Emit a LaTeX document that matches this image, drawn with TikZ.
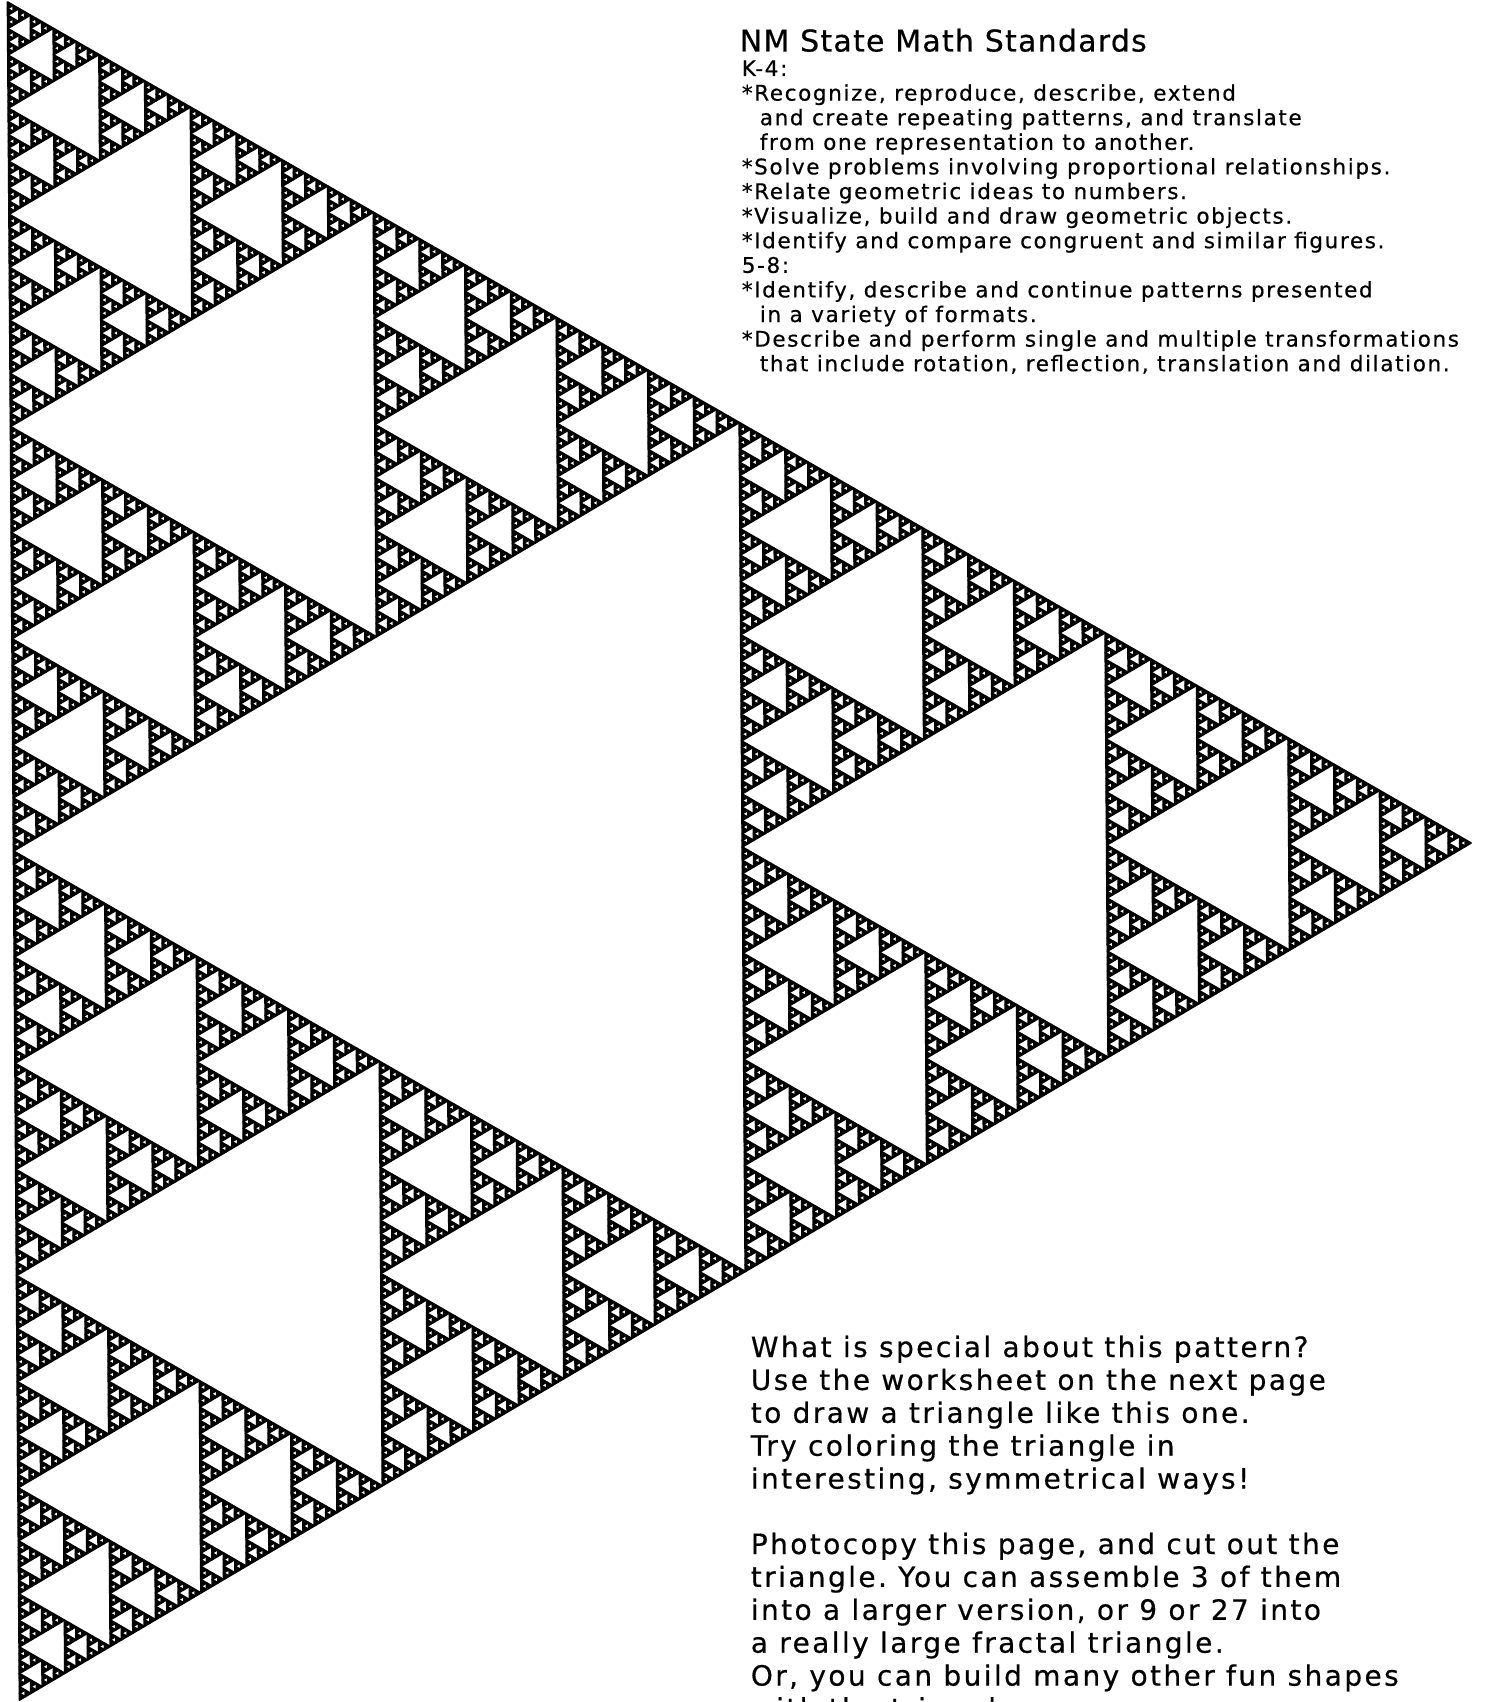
\documentclass[tikz,border=0pt]{standalone}
\usepackage{fontspec}
\newfontfamily\titlefont[LetterSpace=4.1,FakeBold=0.5]{DejaVu Sans}
\newfontfamily\stdfont[LetterSpace=7.6,FakeBold=0.5]{DejaVu Sans}
\newfontfamily\notefont[LetterSpace=8.6,FakeBold=0.5]{DejaVu Sans}

% recursive Sierpinski triangle: level, then three corners (x,y as dimensions)
\newcommand\sierpA[7]{%
  \ifnum#1=0
    \pgfpathmoveto{\pgfqpoint{#2}{#3}}%
    \pgfpathlineto{\pgfqpoint{#4}{#5}}%
    \pgfpathlineto{\pgfqpoint{#6}{#7}}%
    \pgfpathclose
    \pgfusepath{fill,stroke}%
  \else
    \edef\sierpNext{%
      \noexpand\sierpA{\the\numexpr#1-1\relax}{#2}{#3}%
        {\the\dimexpr(#2+#4)/2\relax}{\the\dimexpr(#3+#5)/2\relax}%
        {\the\dimexpr(#2+#6)/2\relax}{\the\dimexpr(#3+#7)/2\relax}%
      \noexpand\sierpA{\the\numexpr#1-1\relax}%
        {\the\dimexpr(#2+#4)/2\relax}{\the\dimexpr(#3+#5)/2\relax}{#4}{#5}%
        {\the\dimexpr(#4+#6)/2\relax}{\the\dimexpr(#5+#7)/2\relax}%
      \noexpand\sierpA{\the\numexpr#1-1\relax}%
        {\the\dimexpr(#2+#6)/2\relax}{\the\dimexpr(#3+#7)/2\relax}%
        {\the\dimexpr(#4+#6)/2\relax}{\the\dimexpr(#5+#7)/2\relax}{#6}{#7}%
    }%
    \sierpNext
  \fi}

\tikzset{
  titletxt/.style={anchor=base west, inner sep=0pt, font=\titlefont\fontsize{30}{36}\selectfont},
  stdtxt/.style={anchor=base west, inner sep=0pt, font=\stdfont\fontsize{21.5}{25}\selectfont},
  notetxt/.style={anchor=base west, inner sep=0pt, font=\notefont\fontsize{28}{33}\selectfont},
}

\begin{document}
\frenchspacing
\begin{tikzpicture}[x=1pt,y=-1pt]
\useasboundingbox (0,0) rectangle (1486,1702);
\fill[white] (0,0) rectangle (1486,1702);
\begin{scope}
\clip (0,0) rectangle (1486,1702);
% fractal
\pgfsetlinewidth{1.7pt}\pgfsetroundjoin
\pgfsetfillcolor{black}\pgfsetstrokecolor{black}
\sierpA{8}{7.5pt}{-2pt}{1471pt}{-843pt}{19.5pt}{-1700pt}

% standards text
\node[titletxt] (title) at (739,51.5) {NM State Math Standards};
\node[stdtxt] (s0)  at (741,76)  {K-4:};
\node[stdtxt] (s1)  at (741,100.6)  {*Recognize, reproduce, describe, extend};
\node[stdtxt] (s2)  at (759,125.2) {and create repeating patterns, and translate};
\node[stdtxt] (s3)  at (759,149.8) {from one representation to another.};
\node[stdtxt] (s4)  at (741,174.4) {*Solve problems involving proportional relationships.};
\node[stdtxt] (s5)  at (741,199) {*Relate geometric ideas to numbers.};
\node[stdtxt] (s6)  at (741,223.6) {*Visualize, build and draw geometric objects.};
\node[stdtxt] (s7)  at (741,248.2) {*Identify and compare congruent and similar figures.};
\node[stdtxt] (s8)  at (741,272.8) {5-8:};
\node[stdtxt] (s9)  at (741,297.4) {*Identify, describe and continue patterns presented};
\node[stdtxt] (s10) at (759,322) {in a variety of formats.};
\node[stdtxt] (s11) at (741,346.6) {*Describe and perform single and multiple transformations};
\node[stdtxt] (s12) at (759,371.2) {that include rotation, reflection, translation and dilation.};

% notes text
\node[notetxt] (n0) at (750,1357)   {What is special about this pattern?};
\node[notetxt] (n1) at (750,1389.9) {Use the worksheet on the next page};
\node[notetxt] (n2) at (750,1422.8) {to draw a triangle like this one.};
\node[notetxt] (n3) at (750,1455.7) {Try coloring the triangle in};
\node[notetxt] (n4) at (750,1488.6) {interesting, symmetrical ways!};
\node[notetxt] (p0) at (750,1554)   {Photocopy this page, and cut out the};
\node[notetxt] (p1) at (750,1586.9) {triangle. You can assemble 3 of them};
\node[notetxt] (p2) at (750,1619.8) {into a larger version, or 9 or 27 into};
\node[notetxt] (p3) at (750,1652.7) {a really large fractal triangle.};
\node[notetxt] (p4) at (750,1685.6) {Or, you can build many other fun shapes};
\node[notetxt] (p5) at (750,1718.5) {with the triangles.};
\end{scope}
\end{tikzpicture}
\end{document}
